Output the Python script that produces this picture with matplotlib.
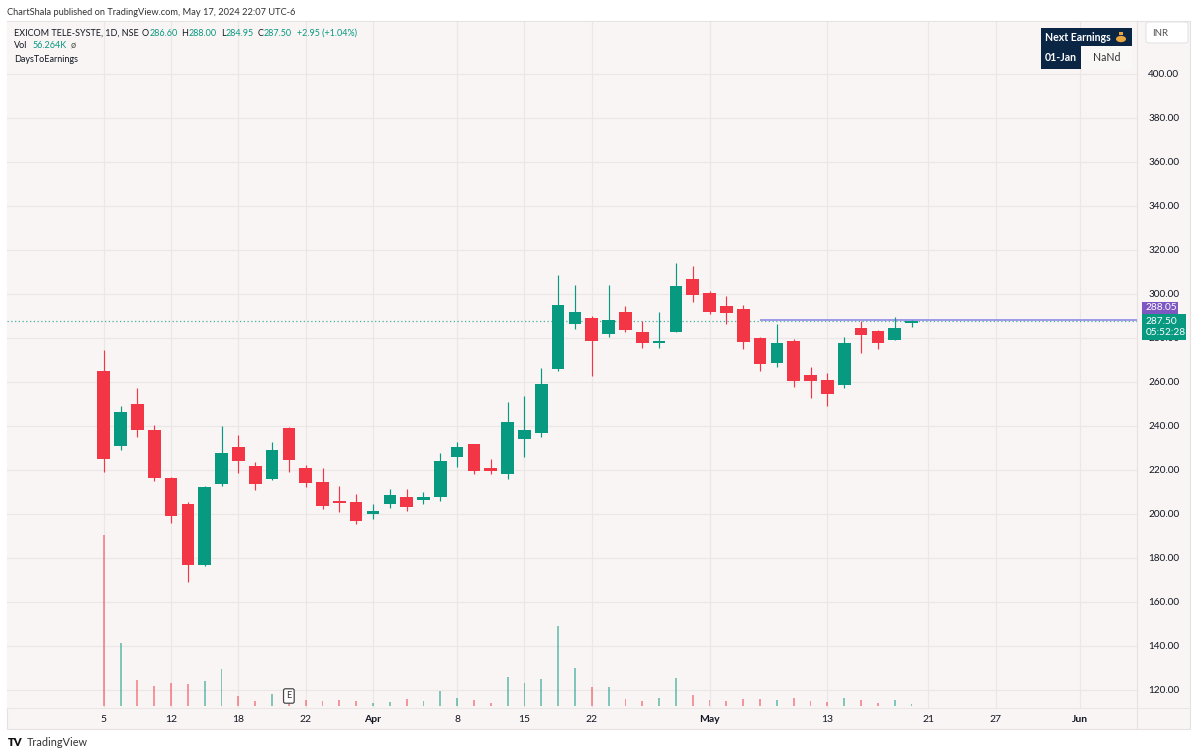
import matplotlib
matplotlib.use("Agg")
import matplotlib.pyplot as plt
from matplotlib.patches import Rectangle, FancyBboxPatch
from matplotlib.transforms import blended_transform_factory
import numpy as np

plt.rcParams['font.family'] = ['Lato', 'DejaVu Sans']

# daily candles, EXICOM TELE-SYSTE (NSE), Mar 5 .. May 18 2024
opens = [265, 231, 249.8, 238, 216.5, 204.7, 176.7, 213.5, 230.5, 221.8,
         216, 239, 220.8, 214.4, 205.9, 205.6, 199.9, 204.4, 207.9, 206.4,
         207.6, 225.8, 231.7, 220.8, 218.2, 234, 236.7, 266, 286.4, 289,
         281.7, 291.7, 282.9, 277.9, 282.9, 307, 300.6, 294.7, 293, 279.8,
         268.8, 278.6, 263.2, 261, 258.6, 284.4, 283.3, 279.1, 286.6]
highs = [274.5, 249, 257.4, 240.5, 217, 205.6, 212.5, 240, 235.9, 223.5,
         232.9, 239.5, 222.3, 220.8, 212.9, 209, 204.5, 211.2, 211.2, 210,
         227.6, 232.6, 232, 224.8, 250.8, 253.6, 266.2, 308.6, 304.1, 290,
         304, 294.5, 287.9, 292, 314.2, 312.9, 301.5, 299, 295, 280.3,
         286.2, 279.5, 266.9, 264, 280.3, 287.7, 283.8, 289.4, 288]
lows = [219, 229, 235, 215, 196, 169.2, 176.5, 212.9, 218.5, 211,
        215.5, 219.2, 212.4, 202.3, 201, 195.5, 197.6, 202.6, 201.5, 204.4,
        206, 221.2, 218.2, 218.2, 215.8, 226, 235.2, 265.2, 284.1, 262.7,
        280.2, 282.6, 275.6, 275.3, 282.5, 296.2, 290.9, 286.2, 275, 265.2,
        266.7, 257.9, 252.9, 249.1, 257.1, 273.3, 274.9, 279, 284.95]
closes = [225, 246.2, 238, 216.5, 199.1, 176.7, 212.3, 227.6, 224, 213.8,
          229.1, 224.5, 214.2, 203.8, 204.8, 197, 201.4, 208.6, 203.3, 207.9,
          224.1, 230.6, 219.7, 219.5, 241.7, 238.2, 259, 295, 292, 278.8,
          288.2, 283.6, 277.9, 278.8, 303.6, 299.4, 291.7, 291.5, 278.3, 268,
          277.6, 260.6, 260.6, 254.4, 277.6, 281.4, 277.9, 284.55, 287.5]
# volume, millions of shares
volumes = [5.63, 2.06, 0.85, 0.65, 0.77, 0.74, 0.82, 1.23, 0.33, 0.155,
           0.41, 0.165, 0.19, 0.165, 0.19, 0.155, 0.11, 0.12, 0.23, 0.175,
           0.50, 0.25, 0.20, 0.11, 0.97, 0.75, 0.88, 2.62, 1.26, 0.64,
           0.64, 0.22, 0.175, 0.25, 0.93, 0.36, 0.20, 0.165, 0.22, 0.22,
           0.20, 0.25, 0.175, 0.12, 0.27, 0.20, 0.09, 0.20, 0.056]

tick_pos = [0, 4, 8, 12, 16, 21, 25, 29, 36, 43, 49, 53, 58]
tick_labels = ["5", "12", "18", "22", "Apr", "8", "15", "22", "May", "13", "21", "27", "Jun"]
month_labels = ["Apr", "May", "Jun"]
price_ticks = [120, 140, 160, 180, 200, 220, 240, 260, 280, 300, 320, 340, 360, 380, 400]
last_price = 287.50
line_price = 288.05
line_start = 39
earnings_idx = 11

UP = '#089981'
DOWN = '#f23645'
BG = '#f9f5f5'
GRID = '#ece7e7'
TXT = '#131722'
NAVY = '#0b2545'
PURPLE = '#7e57c2'

W, H = 1200, 755


def fx(px):
    return px / W


def fy(py):
    return 1 - py / H


fig = plt.figure(figsize=(12, 7.55), dpi=100)
fig.patch.set_facecolor('white')

# chart panel
fig.patches.append(Rectangle((fx(7), fy(729)), fx(1190) - fx(7), fy(21) - fy(729),
                             transform=fig.transFigure, facecolor=BG,
                             edgecolor='#e6e2e2', lw=0.8, zorder=-5))

ax = fig.add_axes([fx(7), fy(708), fx(1137) - fx(7), fy(22) - fy(708)])
ax.set_facecolor(BG)
for s in ax.spines.values():
    s.set_visible(False)

x = np.arange(len(opens))
o = np.array(opens)
c = np.array(closes)
hi = np.array(highs)
lo = np.array(lows)
up = c >= o
cols = np.where(up, UP, DOWN)

ax.vlines(x, lo, hi, colors=cols, lw=0.85, zorder=3)
body_h = np.maximum(np.abs(c - o), 0.6)
ax.bar(x, body_h, bottom=np.minimum(o, c), width=0.75, color=cols, zorder=4)

# last price dotted line and drawn horizontal line
ax.axhline(last_price, color=UP, lw=0.9, ls=(0, (1, 2)), alpha=0.75, zorder=2)
ax.hlines(line_price, line_start, 61.4, color='#8f8ae6', lw=1.2, zorder=2)

# volume
axv = ax.twinx()
axv.bar(x, volumes, width=0.11, color=cols, alpha=0.5, zorder=1)
axv.set_ylim(-0.066, 22.53)
axv.axis('off')

ax.set_xlim(-5.75, 61.4)
ax.set_ylim(111.8, 423.6)

ax.set_xticks(tick_pos)
ax.set_xticklabels(tick_labels)
for t in ax.get_xticklabels():
    t.set_fontsize(7.5)
    t.set_color(TXT)
    if t.get_text() in month_labels:
        t.set_fontweight('bold')
ax.yaxis.tick_right()
ax.set_yticks(price_ticks)
ax.set_yticklabels(["%.2f" % p for p in price_ticks])
ax.tick_params(axis='y', length=0, pad=8, labelsize=7.2, labelcolor=TXT,
               left=False, labelleft=False, right=True, labelright=True)
ax.tick_params(axis='x', length=0, pad=5)
ax.grid(True, color=GRID, lw=0.9, zorder=0)
ax.set_axisbelow(True)

# earnings marker
tr = blended_transform_factory(ax.transData, ax.transAxes)
axv.text(earnings_idx, 0.0175, "E", transform=tr, ha='center', va='center',
         fontsize=6.5, color='#333', zorder=6,
         bbox=dict(boxstyle='round,pad=0.3,rounding_size=0.2', fc='white',
                   ec='#4a4a4a', lw=0.9))

# axis separators
fig.lines.append(plt.Line2D([fx(1137), fx(1137)], [fy(21), fy(729)],
                            transform=fig.transFigure, color='#e6e2e2', lw=0.8))
fig.lines.append(plt.Line2D([fx(7), fx(1190)], [fy(708), fy(708)],
                            transform=fig.transFigure, color='#ebe7e7', lw=0.8))

# header
fig.text(fx(7), fy(12.5), "ChartShala published on TradingView.com, May 17, 2024 22:07 UTC-6",
         fontsize=6.7, color='#333', va='center')

renderer = fig.canvas.get_renderer()
HS = 6.5


def put(px, py, s, color, gap):
    t = fig.text(fx(px), fy(py), s, fontsize=HS, color=color, va='center')
    bb = t.get_window_extent(renderer=renderer)
    return px + bb.width + gap


hx = 14
hx = put(hx, 33.5, "EXICOM TELE-SYSTE, 1D, NSE", TXT, 3)
for lab, val in [("O", "286.60"), ("H", "288.00"), ("L", "284.95"), ("C", "287.50")]:
    hx = put(hx, 33.5, lab, TXT, 0.3)
    hx = put(hx, 33.5, val, UP, 4)
put(hx + 1, 33.5, "+2.95 (+1.04%)", UP, 0)
vx = put(14, 46, "Vol", TXT, 5)
vx = put(vx, 46, "56.264K", UP, 4)
put(vx, 46, "ø", '#555', 0)
put(14, 59, "DaysToEarnings", TXT, 0)

# next earnings table
fig.patches.append(Rectangle((fx(1041), fy(46)), fx(1132) - fx(1041), fy(28) - fy(46),
                             transform=fig.transFigure, facecolor=NAVY, lw=0))
fig.patches.append(Rectangle((fx(1041), fy(68.5)), fx(1081) - fx(1041), fy(46) - fy(68.5),
                             transform=fig.transFigure, facecolor=NAVY, lw=0))
fig.patches.append(Rectangle((fx(1081), fy(68.5)), fx(1132) - fx(1081), fy(46) - fy(68.5),
                             transform=fig.transFigure, facecolor='#faf7f7', lw=0))
fig.text(fx(1045), fy(37.5), "Next Earnings", fontsize=7.6, color='white',
         fontweight='bold', va='center')
fig.patches.append(plt.Circle((fx(1121), fy(39)), 0.0042, transform=fig.transFigure,
                              facecolor='#e8a640', lw=0))
fig.patches.append(Rectangle((fx(1119), fy(34.5)), fx(1123) - fx(1119), fy(32) - fy(34.5),
                             transform=fig.transFigure, facecolor='#e8a640', lw=0))
fig.text(fx(1061), fy(57.5), "01-Jan", fontsize=7.6, color='white', fontweight='bold',
         va='center', ha='center')
fig.text(fx(1107), fy(57.5), "NaNd", fontsize=7.6, color='#333', va='center', ha='center')

# currency box
fig.patches.append(FancyBboxPatch((fx(1146), fy(43)), fx(1188) - fx(1146), fy(22) - fy(43),
                                  boxstyle='round,pad=0,rounding_size=0.003',
                                  transform=fig.transFigure, facecolor='white',
                                  edgecolor='#e4e4e4', lw=0.8))
fig.text(fx(1152), fy(33), "INR", fontsize=7, color='#555', va='center')

# price tags
fig.patches.append(Rectangle((fx(1142), fy(313.5)), fx(1177.5) - fx(1142), fy(302.5) - fy(313.5),
                             transform=fig.transFigure, facecolor=PURPLE, lw=0, zorder=5))
fig.text(fx(1146), fy(308), "%.2f" % line_price, fontsize=7.3, color='white', va='center', zorder=6)
fig.patches.append(Rectangle((fx(1142), fy(340)), fx(1186) - fx(1142), fy(313.5) - fy(340),
                             transform=fig.transFigure, facecolor=UP, lw=0, zorder=5))
fig.text(fx(1146), fy(321), "%.2f" % last_price, fontsize=7.3, color='white', va='center', zorder=6)
fig.text(fx(1146), fy(333), "05:52:28", fontsize=7.3, color='white', va='center', zorder=6)

# footer logo
fig.text(fx(8), fy(742), "TV", fontsize=8, color='#111', fontweight='heavy', va='center')
fig.text(fx(27), fy(742), "TradingView", fontsize=7.8, color='#333', va='center')

fig.savefig("out.png", dpi=100, facecolor='white')
